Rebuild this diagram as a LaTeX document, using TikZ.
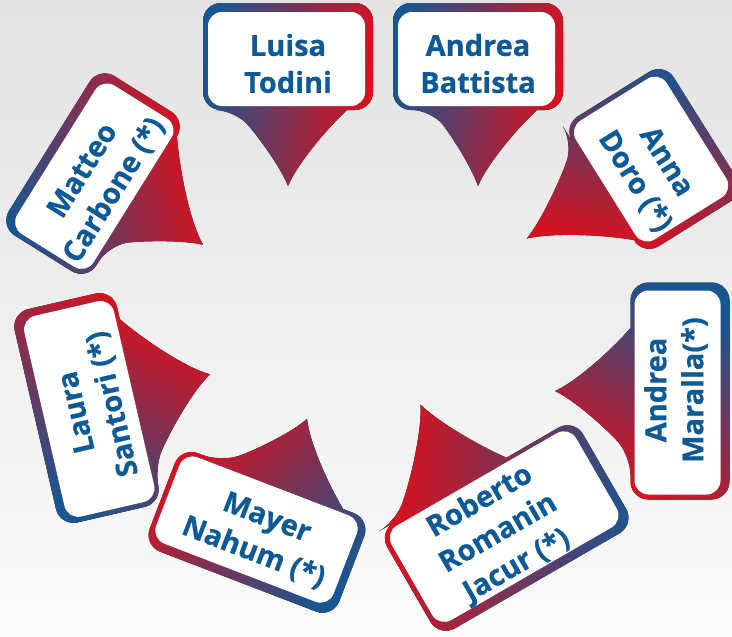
\documentclass[tikz,border=0pt]{standalone}
\usepackage{fontspec}
\setmainfont{Open Sans}[BoldFeatures={FakeBold=0.6}]
\definecolor{calloutblue}{RGB}{24,86,146}
\definecolor{calloutred}{RGB}{226,14,24}
\definecolor{nametext}{RGB}{14,90,150}
\definecolor{bgtop}{RGB}{226,226,226}
\definecolor{bgbottom}{RGB}{250,250,250}
\tikzset{
  frame shade/.style={top color=calloutblue, bottom color=calloutred, shading angle=#1},
  panel/.style={fill=white, rounded corners=14pt},
  name label/.style={font=\fontsize{29}{37}\selectfont\bfseries, text=nametext, align=center, inner sep=0pt}
}
\begin{document}
\begin{tikzpicture}[x=1pt, y=-1pt]
  \useasboundingbox (0,0) rectangle (732,637);
  \clip (0,0) rectangle (732,637);
  \fill[top color=bgtop, bottom color=bgbottom] (0,0) rectangle (732,637);
  % centre / turn / width / height / tip / tail base / side / shading / text offset / name / text
  \foreach \cx/\cy/\rot/\w/\h/\tip/\px/\aL/\aR/\side/\shade/\tx/\ty/\id/\name in {
    288/56.5/0/170/107/129.5/0/-55/59/1/80/0/7/luisa/{Luisa\\Todini},
    478/56.5/0/170/107/129.5/0/-48/59/1/80/0/7/battista/{Andrea\\Battista},
    654/159/-58/153/120/150/0/-58/58/1/-10/9/10/doro/{Anna\\Doro (*)},
    680/391/90/217/99/125/0/-66/63/-1/-30/1/-4/maralla/{Andrea\\Maralla(*)},
    506.7/528/30/226/122/150/-13/-94/35/-1/-95/-10/1/romanin/{Roberto\\Romanin\\Jacur (*)},
    257/532.4/-21/203/105.5/124/6/-60/72/-1/-135/4/2/nahum/{Mayer\\Nahum (*)},
    86.5/408/103/219/105/128/5/-75/79/1/150/-2/9/santori/{Laura\\Santori (*)},
    93/173.6/58/188/103/131/-2/-53/76/1/105/-3/9/carbone/{Matteo\\Carbone (*)}}{
    \pgfmathsetmacro\W{\w/2}
    \pgfmathsetmacro\H{\h/2}
    \pgfmathsetmacro\T{\tip-\H}
    \pgfmathsetmacro\lA{\px+0.64*(\aL-(\px))}
    \pgfmathsetmacro\lB{\px+0.15*(\aL-(\px))}
    \pgfmathsetmacro\rA{\px+0.64*(\aR-(\px))}
    \pgfmathsetmacro\rB{\px+0.15*(\aR-(\px))}
    \pgfmathsetmacro\yA{\H+0.26*\T}
    \pgfmathsetmacro\yB{\H+0.72*\T}
    \begin{scope}[shift={(\cx,\cy)}, rotate=\rot]
      \begin{scope}[yscale=\side]
        \fill[frame shade=\shade] (\px,\tip)
          .. controls (\rB,\yB) and (\rA,\yA) .. (\aR,\H)
          [rounded corners=18pt] -- (\W,\H) -- (\W,-\H) -- (-\W,-\H) -- (-\W,\H) -- (\aL,\H)
          [sharp corners] .. controls (\lA,\yA) and (\lB,\yB) .. (\px,\tip) -- cycle;
        \fill[panel] (-\W+5,-\H+9) rectangle (\W-8,\H-4);
      \end{scope}
      \node[name label, rotate=\rot] (\id) at (\tx,\ty) {\name};
    \end{scope}
  }
\end{tikzpicture}
\end{document}
